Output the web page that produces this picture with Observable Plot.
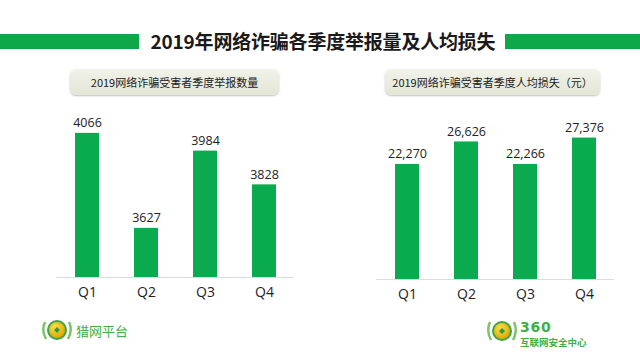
<!DOCTYPE html>
<html>
<head>
<meta charset="utf-8">
<script src="https://cdn.jsdelivr.net/npm/d3@7"></script>
<script src="https://cdn.jsdelivr.net/npm/@observablehq/plot@0.6"></script>
<style>
  html, body { margin: 0; padding: 0; background: #fff; }
  #wrap { position: relative; width: 640px; height: 360px; overflow: hidden; background: #fff;
          font-family: "Noto Sans CJK SC", "Open Sans", sans-serif; }
  .gbar { position: absolute; height: 15px; top: 34px; background: #0ea84b; }
  #title { position: absolute; left: 0; width: 646px; top: 27px; text-align: center;
           font-size: 19px; font-weight: bold; color: #1a1a1a; line-height: 28px; letter-spacing: -0.2px; }
  .sub { position: absolute; height: 26px; top: 69px; border-radius: 6px;
         background: linear-gradient(#f1f2e9, #e3e6d6); box-shadow: 0 1px 2px rgba(0,0,0,0.25);
         font-size: 11px; color: #222; text-align: center; line-height: 26px; }
  .chart { position: absolute; top: 0; }
  .logo { position: absolute; }
</style>
</head>
<body>
<div id="wrap">
  <div class="gbar" style="left:0;width:139px"></div>
  <div class="gbar" style="left:505px;width:135px"></div>
  <div id="title">2019年网络诈骗各季度举报量及人均损失</div>
  <div class="sub" style="left:70px;width:209px">2019网络诈骗受害者季度举报数量</div>
  <div class="sub" style="left:385px;width:215px">2019网络诈骗受害者季度人均损失（元）</div>
  <div id="left" class="chart" style="left:0"></div>
  <div id="right" class="chart" style="left:320px"></div>

  <svg class="logo" style="left:40px;top:316px" width="100" height="28" viewBox="0 0 100 28">
    <defs>
      <radialGradient id="gy1" cx="0.4" cy="0.35" r="0.7">
        <stop offset="0" stop-color="#ffe14a"/><stop offset="1" stop-color="#d9a400"/>
      </radialGradient>
    </defs>
    <path d="M5 6 Q1 14 6 23" stroke="#7cc36a" stroke-width="2.5" fill="none"/>
    <path d="M29 6 Q33 14 28 23" stroke="#7cc36a" stroke-width="2.5" fill="none"/>
    <circle cx="17" cy="14" r="10" fill="#3aa648"/>
    <circle cx="17" cy="14" r="8" fill="url(#gy1)"/>
    <path d="M14.5 14h5M17 11.5v5" stroke="#2e9a3e" stroke-width="2.4"/>
    <text x="36" y="19.5" font-size="13" fill="#3cb043" font-family="Noto Sans CJK SC">猎网平台</text>
  </svg>

  <svg class="logo" style="left:485px;top:314px" width="120" height="34" viewBox="0 0 120 34">
    <defs>
      <radialGradient id="gy2" cx="0.4" cy="0.35" r="0.7">
        <stop offset="0" stop-color="#ffe14a"/><stop offset="1" stop-color="#d9a400"/>
      </radialGradient>
    </defs>
    <path d="M5 8 Q1 17 6 26" stroke="#7cc36a" stroke-width="2.5" fill="none"/>
    <path d="M29 8 Q33 17 28 26" stroke="#7cc36a" stroke-width="2.5" fill="none"/>
    <circle cx="17" cy="17" r="10" fill="#3aa648"/>
    <circle cx="17" cy="17" r="8" fill="url(#gy2)"/>
    <path d="M14.5 17h5M17 14.5v5" stroke="#2e9a3e" stroke-width="2.4"/>
    <text x="35" y="18" font-size="14" font-weight="bold" fill="#3cb043" font-family="DejaVu Sans" letter-spacing="0.8">360</text>
    <text x="35" y="31.5" font-size="9.5" fill="#3cb043" font-family="Noto Sans CJK SC" font-weight="bold">互联网安全中心</text>
  </svg>
</div>
<script>
const quarters = ["Q1", "Q2", "Q3", "Q4"];
const reportCounts = [4066, 3627, 3984, 3828];
const lossPerCapita = [22270, 26626, 22266, 27376];
const reportDomain = [3400, 4100];
const lossDomain = [0, 30000];

const green = "#0aaa4e";
const numFont = "Open Sans, Noto Sans CJK SC, sans-serif";

function barChart(values, domain, fmt, marginTop, marginBottom) {
  const data = quarters.map((q, i) => ({q, v: values[i]}));
  return Plot.plot({
    width: 320,
    height: 310,
    marginLeft: 56,
    marginRight: 26,
    marginTop,
    marginBottom,
    style: {fontFamily: numFont, color: "#222", background: "transparent", overflow: "visible"},
    x: {domain: quarters, paddingInner: 0.6, paddingOuter: 0.3},
    y: {domain, axis: null},
    marks: [
      Plot.barY(data, {x: "q", y1: domain[0], y2: "v", fill: green}),
      Plot.ruleY([domain[0]], {stroke: "#dcdcdc", strokeWidth: 1}),
      Plot.text(data, {x: "q", y: "v", text: d => fmt(d.v), lineAnchor: "bottom", dy: -6,
                       fontSize: 12.5, fill: "#222", style: "letter-spacing:-0.4px"}),
      Plot.axisX({tickSize: 0, tickPadding: 10, fontSize: 14, label: null, color: "#222"})
    ]
  });
}

document.getElementById("left").append(
  barChart(reportCounts, reportDomain, d3.format("d"), 125.5, 33)
);
document.getElementById("right").append(
  barChart(lossPerCapita, lossDomain, d3.format(","), 124, 31)
);
</script>
</body>
</html>
